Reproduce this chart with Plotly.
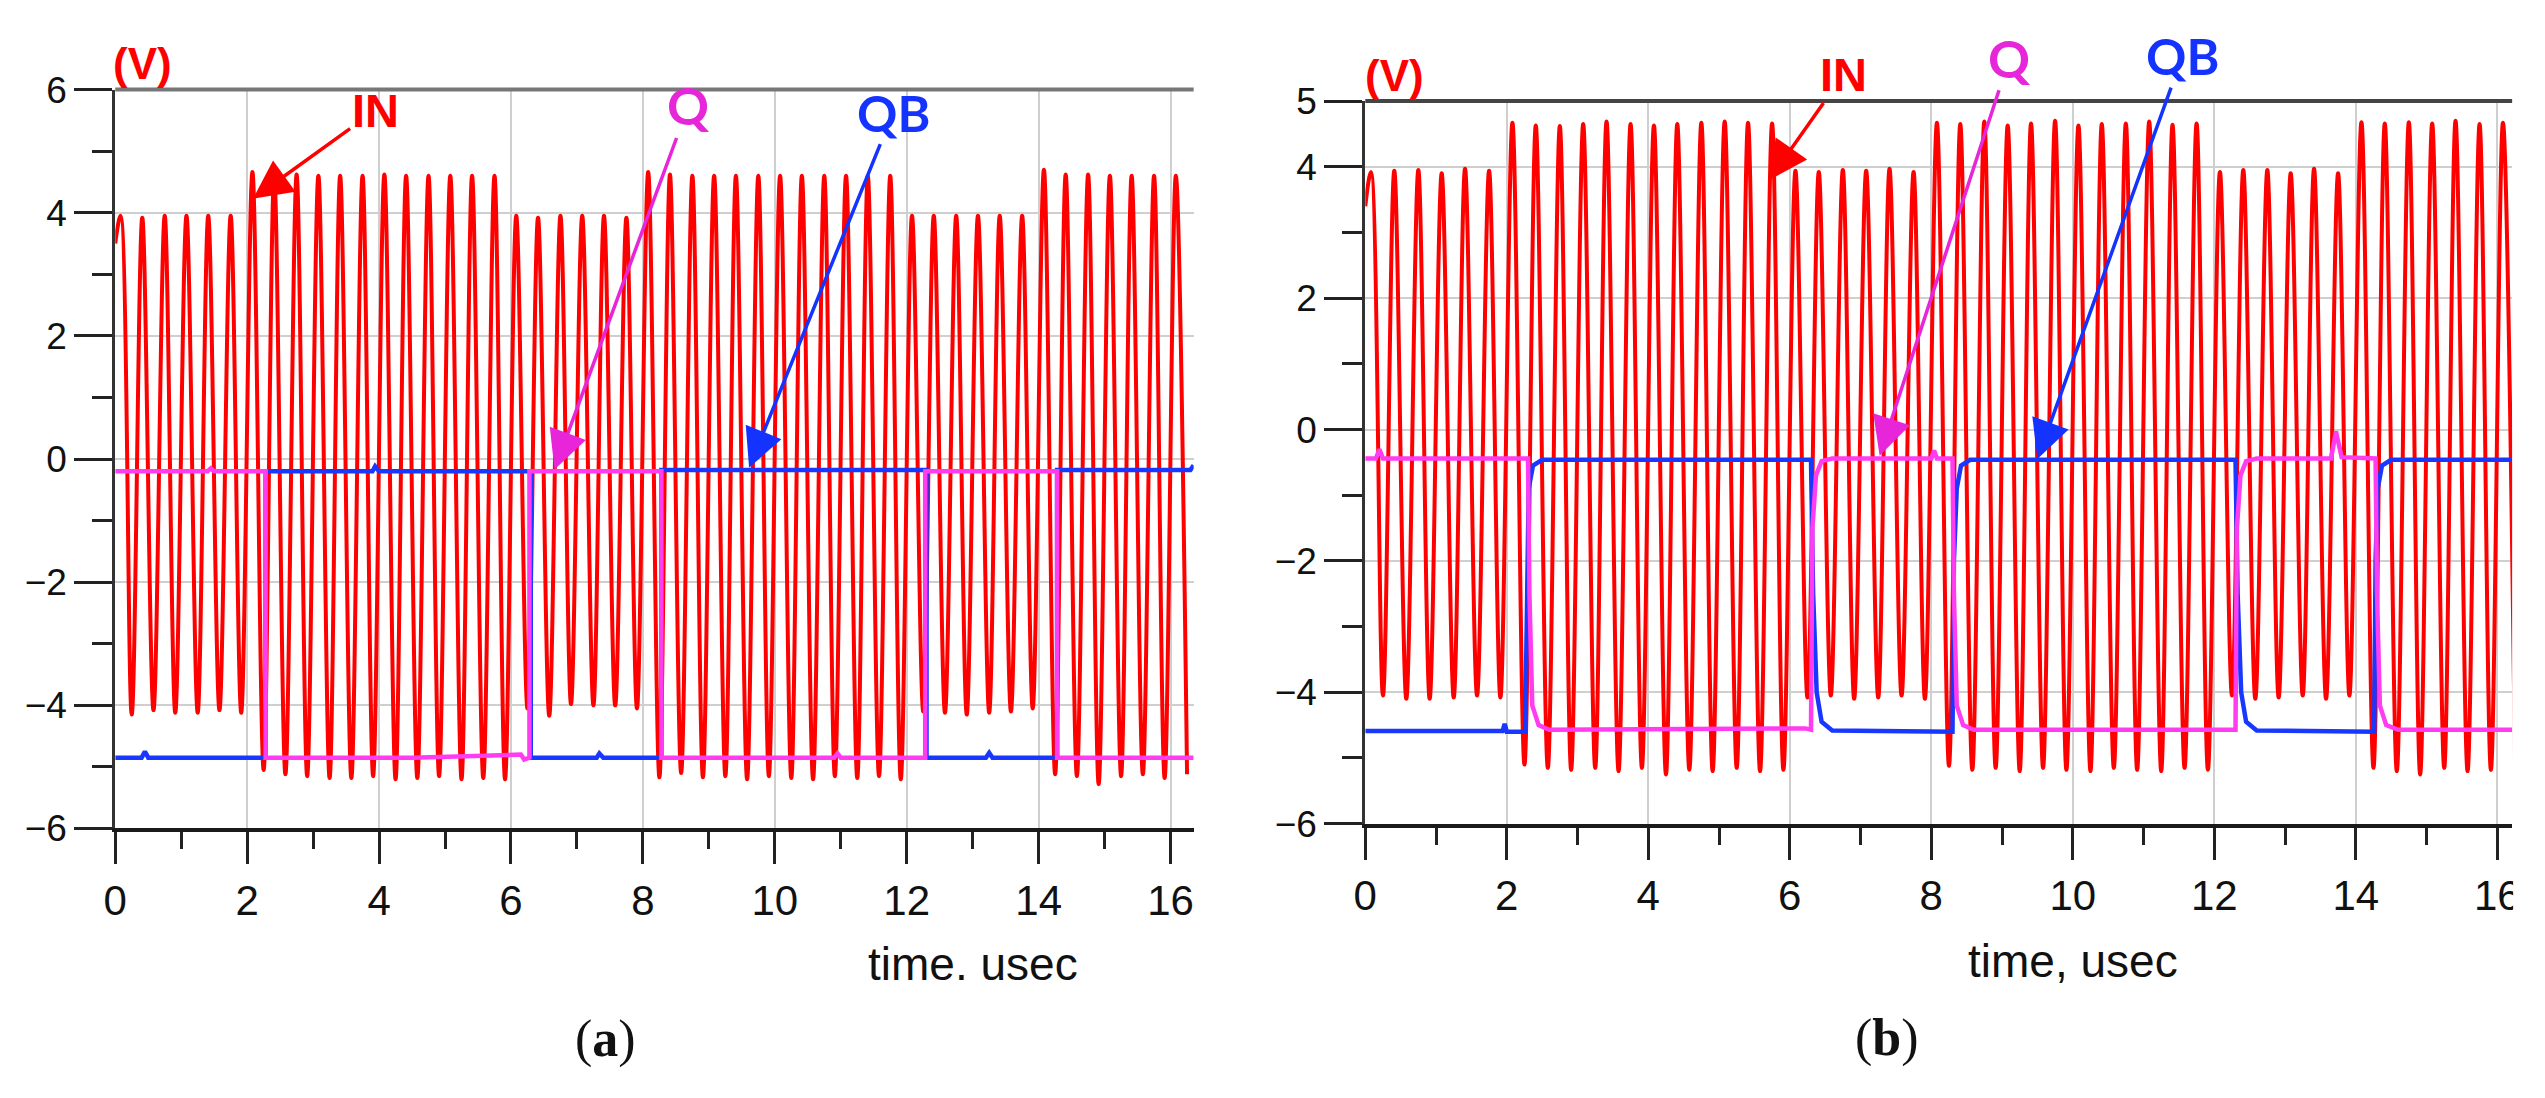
import plotly.graph_objects as go

# carrier (IN) vertex times in usec, same clock in both runs
peak_t = [0.08, 0.41, 0.75, 1.08, 1.41, 1.75, 2.08, 2.41, 2.75, 3.08, 3.41, 3.75,
          4.08, 4.41, 4.75, 5.08, 5.41, 5.75, 6.08, 6.41, 6.75, 7.08, 7.41, 7.75,
          8.08, 8.41, 8.75, 9.08, 9.41, 9.75, 10.08, 10.41, 10.75, 11.08, 11.41, 11.75,
          12.08, 12.41, 12.75, 13.08, 13.41, 13.75, 14.08, 14.41, 14.75, 15.08, 15.41, 15.75,
          16.08]
trough_t = [0.25, 0.58, 0.91, 1.25, 1.58, 1.91, 2.25, 2.58, 2.91, 3.25, 3.58, 3.91,
            4.25, 4.58, 4.91, 5.25, 5.58, 5.91, 6.25, 6.58, 6.91, 7.25, 7.58, 7.91,
            8.25, 8.58, 8.91, 9.25, 9.58, 9.91, 10.25, 10.58, 10.91, 11.25, 11.58, 11.91,
            12.25, 12.58, 12.91, 13.25, 13.58, 13.91, 14.25, 14.58, 14.91, 15.25, 15.58, 15.91,
            16.25]

# (a) IN peaks / troughs, volts
in_a_start = 3.5
in_a_peak = [3.95, 3.92, 3.95, 3.95, 3.95, 3.95,
             4.66, 4.6, 4.62, 4.6, 4.6, 4.6, 4.62, 4.6, 4.6, 4.6, 4.6, 4.6,
             3.95, 3.92, 3.95, 3.95, 3.95, 3.92,
             4.66, 4.62, 4.6, 4.6, 4.6, 4.6, 4.6, 4.6, 4.6, 4.6, 4.6, 4.6,
             3.95, 3.95, 3.95, 3.95, 3.95, 3.95,
             4.7, 4.62, 4.62, 4.6, 4.6, 4.6, 4.6]
in_a_trough = [-4.15, -4.08, -4.12, -4.12, -4.08, -4.12,
               -5.05, -5.12, -5.15, -5.18, -5.18, -5.15, -5.2, -5.18, -5.15, -5.2, -5.18, -5.2,
               -4.05, -4.17, -3.98, -4.0, -4.0, -4.05,
               -5.17, -5.1, -5.17, -5.15, -5.2, -5.15, -5.18, -5.2, -5.15, -5.18, -5.15, -5.2,
               -4.1, -4.12, -4.15, -4.12, -4.1, -4.05,
               -5.12, -5.15, -5.28, -5.15, -5.12, -5.18, -5.12]

# (b) IN peaks / troughs, volts
in_b_start = 3.4
in_b_peak = [3.92, 3.94, 3.95, 3.9, 3.97, 3.94,
             4.67, 4.63, 4.62, 4.65, 4.69, 4.65, 4.63, 4.65, 4.67, 4.69, 4.67, 4.66,
             3.94, 3.92, 3.95, 3.94, 3.97, 3.92,
             4.67, 4.65, 4.69, 4.63, 4.66, 4.7, 4.63, 4.65, 4.66, 4.69, 4.64, 4.66,
             3.92, 3.95, 3.95, 3.9, 3.97, 3.9,
             4.68, 4.66, 4.68, 4.66, 4.7, 4.65, 4.67]
in_b_trough = [-4.05, -4.1, -4.1, -4.08, -4.05, -4.08,
               -5.1, -5.15, -5.18, -5.15, -5.2, -5.15, -5.25, -5.18, -5.2, -5.15, -5.2, -5.18,
               -4.08, -4.05, -4.1, -4.08, -4.05, -4.1,
               -5.12, -5.18, -5.15, -5.2, -5.15, -5.18, -5.2, -5.15, -5.18, -5.2, -5.15, -5.18,
               -4.05, -4.1, -4.08, -4.05, -4.1, -4.05,
               -5.15, -5.2, -5.25, -5.15, -5.2, -5.18, -5.1]

# (a) latch outputs, sharp edges
q_a_t = [0, 1.4, 1.45, 1.5, 2.28, 2.28, 4.5, 6.15, 6.2, 6.28,
         6.28, 8.28, 8.28, 10.9, 10.95, 11.0, 12.28, 12.28, 14.28, 14.28, 16.35]
q_a_v = [-0.2, -0.2, -0.15, -0.2, -0.2, -4.85, -4.85, -4.8, -4.88, -4.85,
         -0.2, -0.2, -4.85, -4.85, -4.78, -4.85, -4.85, -0.2, -0.2, -4.85, -4.85]
qb_a_t = [0, 0.4, 0.45, 0.5, 2.28, 2.28, 3.9, 3.94, 4.0, 6.3, 6.3,
          7.3, 7.34, 7.4, 8.28, 8.28, 12.3, 12.3, 13.2, 13.25, 13.3, 14.28, 14.28, 16.3, 16.35]
qb_a_v = [-4.85, -4.85, -4.75, -4.85, -4.85, -0.2, -0.2, -0.12, -0.2, -0.2, -4.85,
          -4.85, -4.78, -4.85, -4.85, -0.18, -0.18, -4.85, -4.85, -4.77, -4.85, -4.85, -0.18, -0.18, -0.1]

# (b) latch outputs, rounded edges
q_b_t = [0, 0.15, 0.2, 0.25, 2.3, 2.32, 2.36, 2.45, 2.6, 6.22, 6.3, 6.32, 6.37, 6.45, 6.6,
         8.0, 8.04, 8.08, 8.3, 8.32, 8.36, 8.45, 8.6, 12.3, 12.32, 12.37, 12.45, 12.6,
         13.65, 13.72, 13.8, 14.28, 14.3, 14.34, 14.43, 14.6, 16.21]
q_b_v = [-0.44, -0.44, -0.3, -0.44, -0.44, -2.5, -4.2, -4.5, -4.57, -4.55, -4.57, -1.5, -0.7, -0.48, -0.44,
         -0.44, -0.32, -0.44, -0.44, -2.5, -4.2, -4.5, -4.57, -4.57, -1.5, -0.7, -0.48, -0.44,
         -0.44, -0.03, -0.42, -0.44, -2.5, -4.2, -4.5, -4.57, -4.57]
qb_b_t = [0, 1.94, 1.97, 2.0, 2.26, 2.28, 2.31, 2.37, 2.5, 6.3, 6.33, 6.38, 6.45, 6.6,
          8.3, 8.32, 8.36, 8.42, 8.55, 12.3, 12.33, 12.38, 12.45, 12.6,
          14.26, 14.28, 14.31, 14.37, 14.5, 16.21]
qb_b_v = [-4.59, -4.59, -4.48, -4.6, -4.6, -2.5, -0.9, -0.55, -0.46, -0.46, -2.5, -4.0, -4.45, -4.58,
          -4.6, -2.0, -0.9, -0.55, -0.46, -0.46, -2.5, -4.0, -4.45, -4.58,
          -4.6, -2.0, -0.9, -0.55, -0.46, -0.46]

RED = "#ff0000"
PINK = "#ff3cf0"
BLUE = "#1838ff"

# page has an 8px body margin, so the figure is 16px smaller than the window
W, H = 2529, 1082


def px(x):
    return (x - 8) / W


def py(y):
    return 1 - (y - 8) / H


def zigzag(start, peaks, troughs):
    t, v = [0.0], [start]
    for pt, pv, tt, tv in zip(peak_t, peaks, trough_t, troughs):
        t += [pt, tt]
        v += [pv, tv]
    return t, v


fig = go.Figure()

for xa, ya, inn, q, qb in [
    ("x", "y", (in_a_start, in_a_peak, in_a_trough), (q_a_t, q_a_v), (qb_a_t, qb_a_v)),
    ("x2", "y2", (in_b_start, in_b_peak, in_b_trough), (q_b_t, q_b_v), (qb_b_t, qb_b_v)),
]:
    t, v = zigzag(*inn)
    # spline through the extremes gives the rounded carrier shape
    fig.add_trace(go.Scatter(x=t, y=v, mode="lines",
                             line=dict(color=RED, width=4, shape="spline", smoothing=1),
                             xaxis=xa, yaxis=ya, showlegend=False))
    fig.add_trace(go.Scatter(x=qb[0], y=qb[1], mode="lines", line=dict(color=BLUE, width=4.5),
                             xaxis=xa, yaxis=ya, showlegend=False))
    fig.add_trace(go.Scatter(x=q[0], y=q[1], mode="lines", line=dict(color=PINK, width=4.5),
                             xaxis=xa, yaxis=ya, showlegend=False))

tickfont_x = dict(family="Liberation Sans, Arial", size=42, color="#111")
tickfont_y = dict(family="Liberation Sans, Arial", size=37, color="#111")

xcommon = dict(dtick=2, tick0=0, ticks="outside", ticklen=32, tickwidth=2.5, tickcolor="#222",
               minor=dict(dtick=1, ticklen=17, tickwidth=2.5, tickcolor="#222", showgrid=False),
               showgrid=True, gridcolor="#cfcfcf", gridwidth=2, zeroline=False,
               showline=True, linecolor="#1a1a1a", linewidth=4, tickfont=tickfont_x)
ycommon = dict(ticks="outside", ticklen=38, tickwidth=2.5, tickcolor="#222",
               showgrid=True, gridcolor="#cfcfcf", gridwidth=2, zeroline=False,
               showline=True, linecolor="#333", linewidth=3, tickfont=tickfont_y)

fig.update_layout(
    width=W, height=H,
    margin=dict(l=0, r=0, t=0, b=0),
    paper_bgcolor="white", plot_bgcolor="white",
    xaxis=dict(domain=[px(104), px(1191)], range=[0, 16.35], anchor="y", **xcommon),
    yaxis=dict(domain=[py(840), py(72)], range=[-6, 6], anchor="x", dtick=2, tick0=0,
               minor=dict(dtick=1, ticklen=20, tickwidth=2.5, tickcolor="#222", showgrid=False),
               **ycommon),
    xaxis2=dict(domain=[px(1364), px(2520)], range=[0, 16.21], anchor="y2", **xcommon),
    yaxis2=dict(domain=[py(835), py(84)], range=[-6, 5], anchor="x2",
                tickmode="array", tickvals=[-6, -4, -2, 0, 2, 4, 5],
                minor=dict(tickmode="array", tickvals=[-5, -3, -1, 1, 3], ticklen=20,
                           tickwidth=2.5, tickcolor="#222", showgrid=False),
                **ycommon),
)

# top frame lines
fig.add_shape(type="line", xref="x domain", yref="y domain", x0=0, x1=1, y0=1, y1=1,
              line=dict(color="#777", width=4))
fig.add_shape(type="line", xref="x2 domain", yref="y2 domain", x0=0, x1=1, y0=1, y1=1,
              line=dict(color="#444", width=4))
# the source picture is cut off at the right edge of panel (b), through the "16"
fig.add_shape(type="rect", xref="paper", yref="paper", x0=px(2521), x1=1.0, y0=0, y1=1,
              fillcolor="white", line=dict(width=0), layer="above")

label_sans = "Liberation Sans, Arial"
label_cal = "Lato, Carlito, sans-serif"

# arrow labels: (axis, head t, head v, dx, dy, text, colour, font, size)
arrows = [
    ("", 2.09, 4.23, 122, -88, "IN", "#ff0000", label_sans, 47),
    ("", 6.66, -0.17, 134, -364, "Q", "#e626d8", label_cal, 52),
    ("", 9.61, -0.14, 144, -355, "QB", "#1433ff", label_cal, 50),
    ("2", 5.71, 3.80, 74, -105, "IN", "#ff0000", label_sans, 47),
    ("2", 7.27, -0.40, 130, -398, "Q", "#e626d8", label_cal, 52),
    ("2", 9.50, -0.45, 145, -403, "QB", "#1433ff", label_cal, 50),
]
for ax_id, hx, hy, dx, dy, txt, col, fam, sz in arrows:
    fig.add_annotation(x=hx, y=hy, xref="x" + ax_id, yref="y" + ax_id,
                       ax=dx, ay=dy, text="<b>" + txt + "</b>",
                       font=dict(family=fam, size=sz, color=col),
                       showarrow=True, arrowhead=2, arrowsize=2.2, arrowwidth=3.5,
                       arrowcolor=col)

texts = [
    (131, 45, "<b>(V)</b>", dict(family=label_sans, size=44, color="#ff0000")),
    (1393, 57, "<b>(V)</b>", dict(family=label_sans, size=44, color="#ff0000")),
    (969, 981, "time. usec", dict(family=label_sans, size=46, color="#111")),
    (2077, 978, "time, usec", dict(family=label_sans, size=46, color="#111")),
    (598, 1059, "(<b>a</b>)", dict(family="Liberation Serif, serif", size=52, color="#111")),
    (1890, 1058, "(<b>b</b>)", dict(family="Liberation Serif, serif", size=52, color="#111")),
]
for x, y, txt, f in texts:
    fig.add_annotation(x=px(x), y=py(y), xref="paper", yref="paper", text=txt,
                       showarrow=False, font=f, xanchor="center", yanchor="middle")

fig.write_html("out.html")
